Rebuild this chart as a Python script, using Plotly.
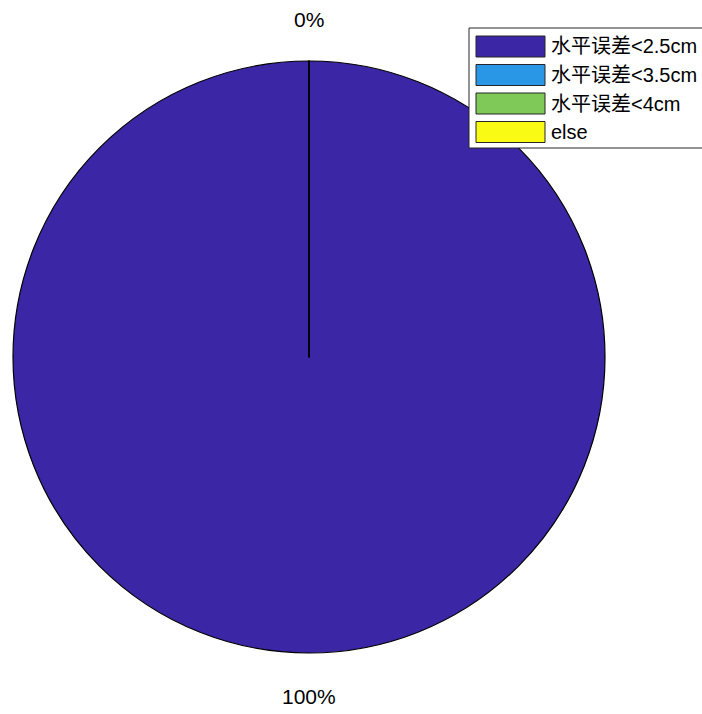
import plotly.graph_objects as go

labels = ["水平误差<2.5cm", "水平误差<3.5cm", "水平误差<4cm", "else"]
values = [100, 0, 0, 0]
colors = ["#3B26A6", "#2A96E6", "#7EC957", "#F9FB14"]

W, H = 702, 714
FONT = "Liberation Sans, Arial, Noto Sans CJK SC"

fig = go.Figure(go.Pie(
    labels=labels, values=values, sort=False, direction="clockwise", rotation=0,
    marker=dict(colors=colors, line=dict(color="black", width=1.2)),
    textinfo="none", hoverinfo="label+percent",
    showlegend=False,
    domain=dict(x=[13 / W, 605 / W], y=[1 - 653 / H, 1 - 61 / H]),
))

total = sum(values)
pcts = [f"{round(100 * v / total)}%" for v in values]
cx = 309 / W
# labels of the zero slices all land at the top (overlapping); the full slice at the bottom
fig.add_annotation(x=cx, y=1 - 19 / H, xref="paper", yref="paper", text=pcts[1],
                   showarrow=False, xanchor="center", yanchor="middle",
                   font=dict(size=21, color="black"))
fig.add_annotation(x=cx, y=1 - 696 / H, xref="paper", yref="paper", text=pcts[0],
                   showarrow=False, xanchor="center", yanchor="middle",
                   font=dict(size=21, color="black"))

# legend (MATLAB style: large colour patches)
fig.add_shape(type="rect", xref="paper", yref="paper",
              x0=469 / W, x1=1.02, y0=1 - 148 / H, y1=1 - 28 / H,
              line=dict(color="#262626", width=1), fillcolor="white", layer="above")
row_tops = [36, 64.5, 93, 121.5]
for lab, col, top in zip(labels, colors, row_tops):
    fig.add_shape(type="rect", xref="paper", yref="paper",
                  x0=476 / W, x1=545 / W, y0=1 - (top + 21) / H, y1=1 - top / H,
                  line=dict(color="#262626", width=1), fillcolor=col, layer="above")
    fig.add_annotation(x=549 / W, y=1 - (top + 10.5) / H, xref="paper", yref="paper",
                       text=lab, showarrow=False, xanchor="left", yanchor="middle",
                       font=dict(size=20, color="black"))

fig.update_layout(
    width=W, height=H,
    margin=dict(l=0, r=0, t=0, b=0),
    paper_bgcolor="white",
    font=dict(family=FONT, size=17, color="black"),
    showlegend=False,
)
fig.write_html("out.html", config={"displayModeBar": False},
               post_script="document.body.style.margin='0';")
